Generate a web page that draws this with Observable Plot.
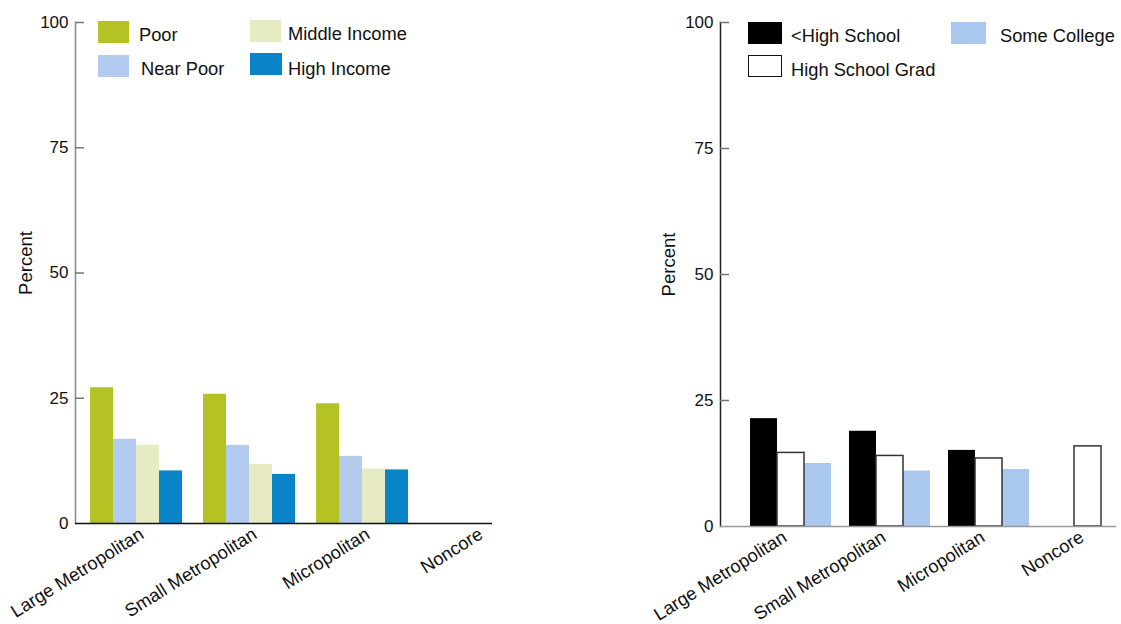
<!DOCTYPE html>
<html>
<head>
<meta charset="utf-8">
<script src="https://cdn.jsdelivr.net/npm/d3@7"></script>
<script src="https://cdn.jsdelivr.net/npm/@observablehq/plot@0.6"></script>
<style>
  html, body { margin: 0; padding: 0; background: #fff; overflow: hidden; width: 1121px; height: 624px; }
  #wrap { position: relative; width: 1121px; height: 624px; overflow: hidden; font-family: "Liberation Sans", Arial, sans-serif; }
  .chart { position: absolute; top: 0; }
  .chart svg { max-width: none !important; }
  .legend { position: absolute; font-size: 18.3px; color: #111; }
  .item { position: absolute; display: flex; align-items: center; white-space: nowrap; }
  .sw { width: 31px; height: 22px; box-sizing: border-box; margin-right: 10px; }
  .item span { position: relative; }
</style>
</head>
<body>
<div id="wrap">
  <div id="left" class="chart" style="left:0px; width:560px"></div>
  <div id="right" class="chart" style="left:560px; width:600px"></div>
  <div id="legendL" class="legend"></div>
  <div id="legendR" class="legend"></div>
</div>
<script>
// ---------- data ----------
const regions = ["Large Metropolitan", "Small Metropolitan", "Micropolitan", "Noncore"];
const incomeSeries = ["Poor", "Near Poor", "Middle Income", "High Income"];
const incomeColors = ["#b4c224", "#b3cbee", "#e6ebc4", "#0a84c8"];
const poor         = [27.1, 25.8, 23.9, null];
const nearPoor     = [16.8, 15.6, 13.4, null];
const middleIncome = [15.6, 11.8, 10.9, null];
const highIncome   = [10.5,  9.8, 10.7, null];

const eduSeries = ["<High School", "High School Grad", "Some College"];
const eduColors = ["#000000", "#ffffff", "#aac8ee"];
const lessHighSchool = [21.4, 18.9, 15.1, null];
const highSchoolGrad = [14.6, 14.0, 13.5, 15.9];
const someCollege    = [12.5, 11.0, 11.3, null];

const yTicks = [0, 25, 50, 75, 100];

// ---------- tables ----------
function table(seriesNames, valueArrays) {
  const rows = [];
  seriesNames.forEach((s, i) => {
    regions.forEach((r, j) => {
      const v = valueArrays[i][j];
      if (v != null) rows.push({region: r, series: s, value: v});
    });
  });
  return rows;
}
const incomeData = table(incomeSeries, [poor, nearPoor, middleIncome, highIncome]);
const eduData = table(eduSeries, [lessHighSchool, highSchoolGrad, someCollege]);

const font = {fontFamily: "'Liberation Sans', Arial, sans-serif", fontSize: "17px", color: "#111", background: "transparent"};

function chart({data, series, colors, width, marginLeft, marginTop, marginBottom, step, groupOffset, groupWidth,
                yLineColor, baseColor, baseTrim, outlined, labelDx, tickDx}) {
  const fxRange = [marginLeft, marginLeft + step * regions.length];
  const xRange = [marginLeft + groupOffset, marginLeft + groupOffset + groupWidth];
  const last = regions[regions.length - 1];
  return Plot.plot({
    width, height: 624,
    marginLeft, marginRight: width - fxRange[1], marginTop, marginBottom,
    style: font,
    fx: {domain: regions, range: fxRange, paddingInner: 0, paddingOuter: 0, label: null},
    x: {domain: series, range: xRange, paddingInner: 0, paddingOuter: 0, axis: null},
    y: {domain: [0, 100], label: null},
    color: {domain: series, range: colors},
    marks: [
      Plot.barY(data, {fx: "region", x: "series", y: "value", fill: "series"}),
      outlined ? Plot.barY(data, {fx: "region", x: "series", y: "value", fill: "none",
        stroke: "#333", strokeWidth: 1.5, filter: d => d.series === outlined}) : null,
      Plot.frame({anchor: "left", facet: "super", stroke: yLineColor, strokeWidth: 1.5}),
      Plot.ruleY(regions.filter(r => r !== last), {fx: d => d, y: () => 0, stroke: baseColor, strokeWidth: 1.5}),
      Plot.ruleY([last], {fx: d => d, y: () => 0, stroke: baseColor, strokeWidth: 1.5, insetRight: baseTrim}),
      // inward tick marks (drawn from the axis line to the right)
      Plot.axisY({ticks: yTicks.filter(d => d > 0), tickSize: 9, dx: 9, tickFormat: () => "", stroke: "#777", strokeWidth: 1.5, label: null}),
      Plot.axisY({ticks: yTicks, tickSize: 0, tickPadding: 7, label: null, fill: "#111"}),
      Plot.text(["Percent"], {facet: "super", frameAnchor: "left", textAnchor: "middle", rotate: -90, dx: labelDx, dy: -10, fill: "#111", fontSize: 18.5}),
      Plot.axisFx({anchor: "bottom", tickSize: 0, tickPadding: 9, tickRotate: -32, label: null, fill: "#111", dx: tickDx, fontSize: 18.3})
    ]
  });
}

const L = chart({
  data: incomeData, series: incomeSeries, colors: incomeColors,
  width: 560, marginLeft: 74, marginTop: 22, marginBottom: 101,
  step: 113.5, groupOffset: 14, groupWidth: 94,
  yLineColor: "#888", baseColor: "#111", baseTrim: 35,
  outlined: null, labelDx: -49, tickDx: 10
});
document.getElementById("left").appendChild(L);

const R = chart({
  data: eduData, series: eduSeries, colors: eduColors,
  width: 600, marginLeft: 160, marginTop: 22, marginBottom: 98,
  step: 99, groupOffset: 29, groupWidth: 82,
  yLineColor: "#222", baseColor: "#999", baseTrim: 0,
  outlined: "High School Grad", labelDx: -51, tickDx: 15
});
document.getElementById("right").appendChild(R);

// ---------- legends ----------
function legend(el, items) {
  items.forEach(it => {
    const d = document.createElement("div");
    d.className = "item";
    d.style.left = it.x + "px";
    d.style.top = it.y + "px";
    const sw = document.createElement("div");
    sw.className = "sw";
    sw.style.width = it.w + "px";
    sw.style.background = it.color;
    if (it.border) sw.style.border = "1.5px solid #111";
    sw.style.marginRight = it.gap + "px";
    const t = document.createElement("span");
    t.textContent = it.label;
    t.style.top = it.dy + "px";
    d.appendChild(sw); d.appendChild(t);
    el.appendChild(d);
  });
}
legend(document.getElementById("legendL"), [
  {label: incomeSeries[0], color: incomeColors[0], x: 98, y: 21, w: 31, gap: 10, dy: 3},
  {label: incomeSeries[1], color: incomeColors[1], x: 98, y: 55, w: 31, gap: 12, dy: 3},
  {label: incomeSeries[2], color: incomeColors[2], x: 250, y: 20, w: 31, gap: 7, dy: 3},
  {label: incomeSeries[3], color: incomeColors[3], x: 250, y: 53, w: 32, gap: 6, dy: 5}
]);
legend(document.getElementById("legendR"), [
  {label: eduSeries[0], color: eduColors[0], x: 748, y: 22, w: 34, gap: 9, dy: 3},
  {label: eduSeries[1], color: eduColors[1], x: 748, y: 55, w: 34, gap: 9, border: true, dy: 4},
  {label: eduSeries[2], color: eduColors[2], x: 951, y: 22, w: 35, gap: 14, dy: 3}
]);
</script>
</body>
</html>
